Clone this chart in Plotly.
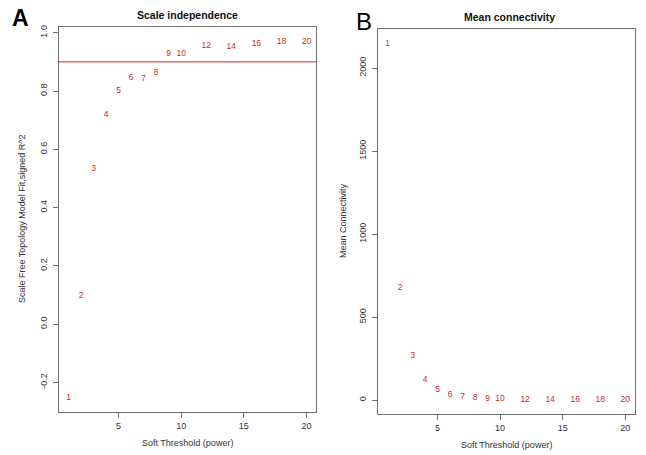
import plotly.graph_objects as go

powers = [1, 2, 3, 4, 5, 6, 7, 8, 9, 10, 12, 14, 16, 18, 20]
sft_r2 = [-0.253, 0.098, 0.532, 0.718, 0.802, 0.844, 0.843, 0.862, 0.926, 0.928,
          0.955, 0.952, 0.962, 0.967, 0.968]
mean_k = [2148, 678, 268, 122, 62, 34, 18, 12, 8, 6, 3, 2, 1, 1, 1]
r2_cutoff = 0.9

FONT = "Liberation Sans, Arial, sans-serif"
RED = "#cc2b2b"
AX = "#707070"
TXT = "#333333"

fig = go.Figure()
fig.add_trace(go.Scatter(x=powers, y=sft_r2, mode="text", text=[str(p) for p in powers],
                         textfont=dict(color=RED, size=8.5, family=FONT),
                         textposition="middle center", xaxis="x", yaxis="y",
                         showlegend=False, hoverinfo="x+y"))
fig.add_trace(go.Scatter(x=powers, y=mean_k, mode="text", text=[str(p) for p in powers],
                         textfont=dict(color=RED, size=8.5, family=FONT),
                         textposition="middle center", xaxis="x2", yaxis="y2",
                         showlegend=False, hoverinfo="x+y"))

fig.add_shape(type="line", xref="x domain", x0=0, x1=1, yref="y", y0=r2_cutoff, y1=r2_cutoff,
              line=dict(color=RED, width=1))

axis_common = dict(showline=True, linecolor=AX, linewidth=1, mirror=True, ticks="outside",
                   ticklen=5, tickcolor=AX, tickwidth=1, showgrid=False, zeroline=False,
                   tickfont=dict(size=9, color=TXT, family=FONT))

fig.update_layout(
    width=646, height=455,
    margin=dict(l=0, r=0, t=0, b=0),
    paper_bgcolor="white", plot_bgcolor="white",
    font=dict(family=FONT, color=TXT),
    xaxis=dict(domain=[59/646, 316/646], range=[0.24, 20.76], tickvals=[5, 10, 15, 20],
               anchor="y", **axis_common),
    yaxis=dict(domain=[1-412/455, 1-25/455], range=[-0.302, 1.02],
               tickvals=[-0.2, 0.0, 0.2, 0.4, 0.6, 0.8, 1.0],
               ticktext=["-0.2", "0.0", "0.2", "0.4", "0.6", "0.8", "1.0"],
               tickangle=-90, ticklabelstandoff=2, anchor="x", **axis_common),
    xaxis2=dict(domain=[378/646, 634.7/646], range=[0.24, 20.76], tickvals=[5, 10, 15, 20],
                anchor="y2", **axis_common),
    yaxis2=dict(domain=[1-414/455, 1-27.3/455], range=[-85, 2234],
                tickvals=[0, 500, 1000, 1500, 2000], tickangle=-90, ticklabelstandoff=2,
                anchor="x2", **axis_common),
)

def ann(text, x, y, size, angle=0, bold=False, color=TXT):
    fig.add_annotation(text=f"<b>{text}</b>" if bold else text, xref="paper", yref="paper",
                       x=x/646, y=1-y/455, showarrow=False, textangle=angle,
                       font=dict(size=size, color=color, family=FONT),
                       xanchor="center", yanchor="middle")

ann("Scale independence", 187, 13, 10.5, bold=True, color="#111111")
ann("Mean connectivity", 509, 15, 10.5, bold=True, color="#111111")
ann("Soft Threshold (power)", 187, 443, 9)
ann("Soft Threshold (power)", 506, 445, 9)
ann("Scale Free Topology Model Fit,signed R^2", 22, 218, 9, angle=-90)
ann("Mean Connectivity", 343, 220, 9, angle=-90)
ann("A", 20, 16, 23, bold=True, color="#000000")
ann("B", 364, 20, 24, color="#000000")

fig.write_html("out.html", config={"displayModeBar": False},
               post_script="document.body.style.margin='0';document.body.style.overflow='hidden';")
